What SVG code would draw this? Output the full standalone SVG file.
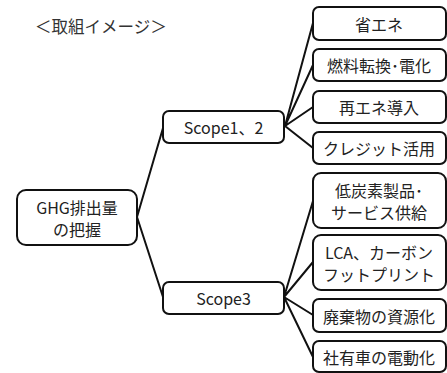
<svg xmlns="http://www.w3.org/2000/svg" width="447" height="373" viewBox="0 0 447 373">
<style>
.box{fill:#fff;stroke:#111;stroke-width:2}
.t{font-family:"Noto Sans CJK JP","Liberation Sans",sans-serif;font-size:16px;fill:#222;text-anchor:middle;dominant-baseline:central}
.c{stroke:#111;stroke-width:2;fill:none}
</style>
<rect width="447" height="373" fill="#fff"/>
<text x="35" y="26" font-family="Noto Sans CJK JP,Liberation Sans,sans-serif" font-size="16.5" fill="#333" dominant-baseline="central">＜取組イメージ＞</text>
<g id="connectors">
<path class="c" d="M137 217 L163 128 M137 217 L163 297"/>
<path class="c" d="M285 126 L313 23 M285 126 L313 65 M285 126 L313 107 M285 126 L313 148"/>
<path class="c" d="M284 297 L313 201 M284 297 L313 262 M284 297 L313 315 M284 297 L313 357"/>
</g>
<g id="ghg"><rect class="box" x="17" y="190" width="120" height="55" rx="9"/><text class="t" x="77" y="207">GHG排出量</text><text class="t" x="77" y="229">の把握</text></g>
<g id="scope12"><rect class="box" x="163" y="111" width="121" height="32" rx="6"/><text class="t" x="223.5" y="127">Scope1、2</text></g>
<g id="scope3"><rect class="box" x="163" y="282" width="121" height="32" rx="6"/><text class="t" x="223.5" y="298">Scope3</text></g>
<g id="n1"><rect class="box" x="313" y="7" width="133" height="33" rx="6"/><text class="t" x="379" y="23.5">省エネ</text></g>
<g id="n2"><rect class="box" x="313" y="49" width="133" height="32" rx="6"/><text class="t" x="379" y="65">燃料転換･電化</text></g>
<g id="n3"><rect class="box" x="313" y="91" width="133" height="32" rx="6"/><text class="t" x="379" y="107">再エネ導入</text></g>
<g id="n4"><rect class="box" x="313" y="132" width="133" height="32" rx="6"/><text class="t" x="379" y="148">クレジット活用</text></g>
<g id="n5"><rect class="box" x="313" y="173" width="133" height="55" rx="8"/><text class="t" x="379" y="189.5">低炭素製品･</text><text class="t" x="379" y="211.5">サービス供給</text></g>
<g id="n6"><rect class="box" x="313" y="235" width="133" height="55" rx="8"/><text class="t" x="379" y="251.5">LCA、カーボン</text><text class="t" x="379" y="273.5">フットプリント</text></g>
<g id="n7"><rect class="box" x="313" y="299" width="133" height="33" rx="6"/><text class="t" x="379" y="315.5">廃棄物の資源化</text></g>
<g id="n8"><rect class="box" x="313" y="341" width="133" height="31" rx="6"/><text class="t" x="379" y="356.5">社有車の電動化</text></g>
</svg>
